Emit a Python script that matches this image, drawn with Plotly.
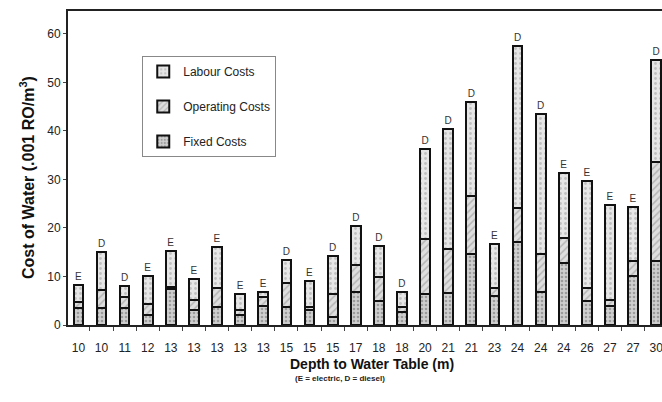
import plotly.graph_objects as go

depths = ["10", "10", "11", "12", "13", "13", "13", "13", "13", "15", "15", "15", "17",
          "18", "18", "20", "21", "21", "23", "24", "24", "24", "26", "27", "27", "30"]
power = ["E", "D", "D", "E", "E", "E", "E", "E", "E", "D", "E", "D", "D",
         "D", "D", "D", "D", "D", "E", "D", "D", "E", "E", "E", "E", "D"]
fixed_costs = [3.6, 3.6, 3.6, 2.1, 7.4, 3.1, 3.8, 2.1, 3.9, 3.8, 3.0, 1.7, 6.7,
               5.0, 2.7, 6.3, 6.5, 14.6, 6.0, 17.2, 6.7, 12.7, 5.0, 4.0, 10.0, 13.1]
operating_costs = [1.1, 3.6, 2.2, 2.3, 0.5, 2.1, 3.9, 0.9, 1.8, 4.8, 0.7, 4.7, 5.7,
                   4.8, 1.1, 11.4, 9.2, 11.9, 1.6, 6.9, 7.9, 5.2, 2.6, 1.2, 3.2, 20.4]
labour_costs = [3.5, 7.8, 2.2, 5.6, 7.3, 4.3, 8.3, 3.3, 1.1, 4.7, 5.4, 7.8, 7.9,
                6.5, 3.0, 18.5, 24.6, 19.4, 9.1, 33.3, 28.9, 13.4, 22.0, 19.5, 11.1, 21.1]

x = list(range(len(depths)))
font = "Liberation Sans, Arial, sans-serif"

fig = go.Figure()
fig.add_trace(go.Bar(
    x=x, y=fixed_costs, name="Fixed Costs", legendgroup="f", legendrank=3, width=0.42,
    marker=dict(color="#cfcfcf", line=dict(color="#111", width=2),
                pattern=dict(shape=".", fgcolor="#6a6a6a", size=4, solidity=0.35)),
))
fig.add_trace(go.Bar(
    x=x, y=operating_costs, name="Operating Costs", legendgroup="o", legendrank=2, width=0.42,
    marker=dict(color="#dedede", line=dict(color="#111", width=2),
                pattern=dict(shape="/", fgcolor="#8a8a8a", size=5, solidity=0.3)),
))
fig.add_trace(go.Bar(
    x=x, y=labour_costs, name="Labour Costs", legendgroup="l", legendrank=1, width=0.42,
    marker=dict(color="#e6e6e6", line=dict(color="#111", width=2),
                pattern=dict(shape=".", fgcolor="#9a9a9a", size=5, solidity=0.25)),
    text=power, textposition="outside", cliponaxis=False,
    outsidetextfont=dict(family=font, size=10, color="#333"),
))

fig.update_layout(
    width=662, height=402,
    barmode="stack",
    paper_bgcolor="white", plot_bgcolor="white",
    margin=dict(l=68, r=0, t=11, b=77, autoexpand=False),
    font=dict(family=font, size=12, color="#222"),
    showlegend=True,
    legend=dict(
        x=0.125, y=0.857, xanchor="left", yanchor="top",
        bgcolor="white", bordercolor="#888", borderwidth=1,
        traceorder="grouped", tracegroupgap=16,
        font=dict(family=font, size=12, color="#222"),
        itemwidth=30, entrywidth=150, entrywidthmode="pixels",
    ),
    xaxis=dict(
        range=[-0.45, 25.25], automargin=False,
        tickvals=x, ticktext=depths, ticks="", ticklabelstandoff=11,
        ticklabeloverflow="allow",
        tickfont=dict(family=font, size=12, color="#222"),
        showline=True, linecolor="#222", linewidth=2, mirror=True,
        showgrid=False, zeroline=False,
        minor=dict(tick0=0.5, dtick=1, ticks="outside", ticklen=4, tickcolor="#444"),
    ),
    yaxis=dict(
        range=[0, 64.7], automargin=False,
        tickvals=[0, 10, 20, 30, 40, 50, 60],
        ticks="outside", ticklen=3, tickcolor="#444",
        tickfont=dict(family=font, size=12, color="#222"),
        showline=True, linecolor="#222", linewidth=2,
        showgrid=False, zeroline=False,
    ),
    annotations=[
        dict(text="<b>Cost of Water (.001 RO/m<sup>3</sup>)</b>", xref="paper", yref="paper",
             x=-0.069, y=0.468, xanchor="center", yanchor="middle", textangle=-90,
             showarrow=False, font=dict(family=font, size=16, color="#111")),
        dict(text="<b>Depth to Water Table (m)</b>", xref="paper", yref="paper",
             x=0.512, y=-0.123, xanchor="center", yanchor="middle", showarrow=False,
             font=dict(family=font, size=14, color="#111")),
        dict(text="<b>(E = electric, D = diesel)</b>", xref="paper", yref="paper",
             x=0.458, y=-0.17, xanchor="center", yanchor="middle", showarrow=False,
             font=dict(family=font, size=8, color="#222")),
    ],
)

fig.write_html(
    "out.html",
    config={"displayModeBar": False},
    post_script="document.body.style.margin='0';document.body.style.overflow='hidden';",
)
